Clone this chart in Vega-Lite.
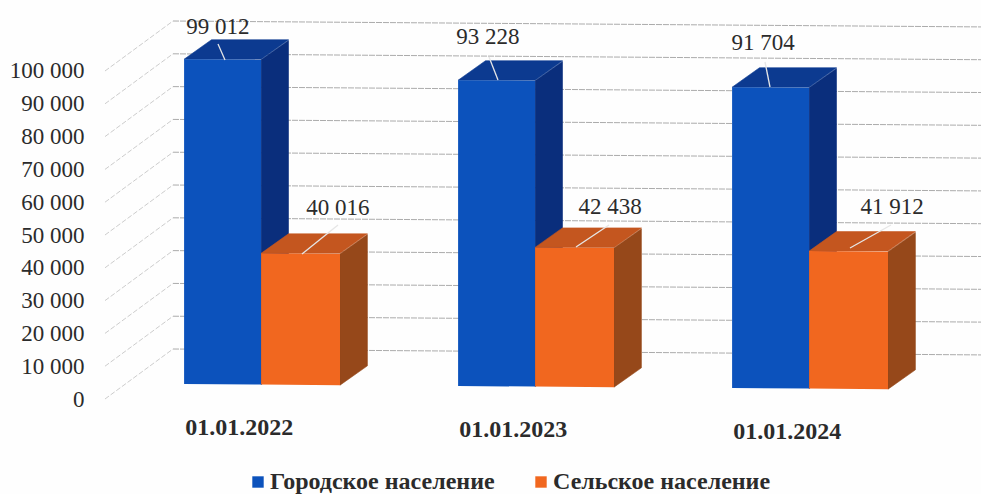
{
"$schema":"https://vega.github.io/schema/vega-lite/v6.json",
"width":891,"height":494,
"autosize":{"type":"none"},
"padding":{"left":90,"top":0,"right":0,"bottom":0},
"background":"#fefefe",
"config":{"view":{"stroke":null},"font":"Liberation Serif"},
"datasets":{
"bars":[
{"date":"01.01.2022","series":"Городское население","value":99012},
{"date":"01.01.2022","series":"Сельское население","value":40016},
{"date":"01.01.2023","series":"Городское население","value":93228},
{"date":"01.01.2023","series":"Сельское население","value":42438},
{"date":"01.01.2024","series":"Городское население","value":91704},
{"date":"01.01.2024","series":"Сельское население","value":41912}],
"ticks":[{"v":0},{"v":10000},{"v":20000},{"v":30000},{"v":40000},{"v":50000},{"v":60000},{"v":70000},{"v":80000},{"v":90000},{"v":100000}]
},
"resolve":{"axis":{"y":"independent","x":"independent"}},
"layer":[
{"data":{"name":"ticks"},
 "transform":[{"calculate":"[0,1]","as":"t"},{"flatten":["t"]},{"calculate":"-0.2847+datum.t*0.2482","as":"X"},{"calculate":"datum.v+datum.t*15240","as":"Y"}],
 "mark":{"type":"line","stroke":"#c6c6c6","strokeWidth":0.9,"strokeDash":[5,2]},
 "encoding":{"x":{"field":"X","type":"quantitative","scale":{"domain":[-0.3394,2.9124],"nice":false,"zero":false},"axis":null},
  "y":{"field":"Y","type":"quantitative","scale":{"domain":[-28963,121646],"nice":false,"zero":false},
   "axis":{"title":null,"grid":false,"domain":false,"ticks":false,"labelPadding":6,"values":[0,10000,20000,30000,40000,50000,60000,70000,80000,90000,100000],
    "labelFont":"Liberation Serif","labelFontSize":23,"labelColor":"#2b2b2b","labelExpr":"replace(format(datum.value,','),/,/g,' ')"}},
  "detail":{"field":"v"}}},
{"data":{"name":"ticks"},
 "transform":[{"calculate":"[0,1]","as":"t"},{"flatten":["t"]},{"calculate":"-0.0365+datum.t*2.949","as":"X"},{"calculate":"datum.v+15240-datum.t*1799","as":"Y"}],
 "mark":{"type":"line","stroke":"#a2a2a2","strokeWidth":0.9,"strokeDash":[6,1]},
 "encoding":{"x":{"field":"X","type":"quantitative","axis":null},"y":{"field":"Y","type":"quantitative","axis":null},"detail":{"field":"v"}}},
{"data":{"name":"bars"},
 "transform":[
  {"calculate":"toNumber(slice(datum.date,6))-2022","as":"g"},
  {"calculate":"datum.series[0]=='Г'?0:1","as":"s"},
  {"calculate":"datum.g+0.004+datum.s*0.281","as":"xl"},
  {"calculate":"datum.s==0?0.281:0.288","as":"w"},
  {"calculate":"[0,1]","as":"t"},{"flatten":["t"]}],
 "resolve":{"axis":{"y":"independent","x":"independent"}},
 "layer":[
  {"transform":[{"calculate":"datum.xl+datum.w+datum.t*0.1","as":"X"},
    {"calculate":"4573-610*datum.X+datum.t*5945","as":"Y2"},{"calculate":"datum.Y2+datum.value","as":"Y"}],
   "mark":{"type":"area","orient":"vertical","strokeWidth":0.6},
   "encoding":{"x":{"field":"X","type":"quantitative","axis":null},"y":{"field":"Y","type":"quantitative","stack":null,"axis":null},"y2":{"field":"Y2"},
    "detail":{"field":"value"},
    "fill":{"condition":{"test":"datum.s==0","value":"#0a2e7c"},"value":"#96481a"},
    "stroke":{"condition":{"test":"datum.s==0","value":"#0a2e7c"},"value":"#96481a"}}},
  {"transform":[{"calculate":"datum.xl+datum.t*0.1","as":"X"},{"calculate":"datum.X+datum.w","as":"X2"},
    {"calculate":"4573-610*datum.xl+datum.t*5945+datum.value","as":"Y"}],
   "mark":{"type":"area","orient":"horizontal","strokeWidth":0.6},
   "encoding":{"y":{"field":"Y","type":"quantitative","stack":null,"axis":null},"x":{"field":"X","type":"quantitative","stack":null,"axis":null},"x2":{"field":"X2"},
    "detail":{"field":"value"},
    "fill":{"condition":{"test":"datum.s==0","value":"#0c3a90"},"value":"#c4561f"},
    "stroke":{"condition":{"test":"datum.s==0","value":"#0c3a90"},"value":"#c4561f"}}},
  {"transform":[{"calculate":"datum.xl+datum.t*datum.w","as":"X"},
    {"calculate":"4573-610*datum.X","as":"Y2"},{"calculate":"datum.Y2+datum.value","as":"Y"}],
   "mark":{"type":"area","orient":"vertical"},
   "encoding":{"x":{"field":"X","type":"quantitative","axis":null},"y":{"field":"Y","type":"quantitative","stack":null,"axis":null},"y2":{"field":"Y2"},
    "detail":{"field":"value"},
    "color":{"field":"series","type":"nominal","scale":{"domain":["Городское население","Сельское население"],"range":["#0c52bc","#f1671f"]},
     "legend":{"title":null,"orient":"none","direction":"horizontal","legendX":156,"legendY":470,"symbolType":"square","symbolSize":130,"symbolStrokeWidth":0,"columnPadding":34,"labelFont":"Liberation Serif","labelFontWeight":"bold","labelFontSize":24,"labelColor":"#2b2b2b","labelLimit":300,"symbolOpacity":1,"labelOffset":0}}}},
  {"transform":[
    {"calculate":"{'99012':0.1533,'40016':0.4343,'93228':1.1496,'42438':1.4343,'91704':2.1423,'41912':2.4343}[datum.value]","as":"a"},
    {"calculate":"{'99012':0.1277,'40016':0.5657,'93228':1.1168,'42438':1.5547,'91704':2.1241,'41912':2.5839}[datum.value]","as":"b"},
    {"calculate":"{'99012':103354,'40016':44207,'93228':97256,'42438':46341,'91704':95122,'41912':46037}[datum.value]","as":"c"},
    {"calculate":"{'99012':108232,'40016':53049,'93228':104268,'42438':53049,'91704':102744,'41912':53049}[datum.value]","as":"d"},
    {"calculate":"datum.a+datum.t*(datum.b-datum.a)","as":"X"},{"calculate":"datum.c+datum.t*(datum.d-datum.c)","as":"Y"}],
   "mark":{"type":"line","stroke":"#e6e6e6","strokeWidth":1.3},
   "encoding":{"x":{"field":"X","type":"quantitative","axis":null},"y":{"field":"Y","type":"quantitative","axis":null},"detail":{"field":"value"}}},
  {"transform":[{"filter":"datum.t==0"},
    {"calculate":"{'99012':0.1277,'40016':0.5657,'93228':1.1131,'42438':1.5584,'91704':2.1168,'41912':2.5876}[datum.value]","as":"X"},
    {"calculate":"{'99012':113415,'40016':58232,'93228':110366,'42438':58537,'91704':108537,'41912':58537}[datum.value]","as":"Y"},
    {"calculate":"replace(format(datum.value,','),',',' ')","as":"label"}],
   "mark":{"type":"text","font":"Liberation Serif","fontSize":23,"color":"#2b2b2b","baseline":"middle","align":"center"},
   "encoding":{"x":{"field":"X","type":"quantitative","axis":null},"y":{"field":"Y","type":"quantitative","axis":null},"text":{"field":"label"}}},
  {"transform":[{"filter":"datum.t==0 && datum.s==0"},{"calculate":"datum.g+0.205","as":"X"},{"calculate":"-8841-610*datum.g","as":"Y"}],
   "mark":{"type":"text","font":"Liberation Serif","fontSize":24,"fontWeight":"bold","color":"#2b2b2b","baseline":"middle","align":"center"},
   "encoding":{"x":{"field":"X","type":"quantitative","axis":null},"y":{"field":"Y","type":"quantitative","axis":null},"text":{"field":"date"}}}
 ]}
]
}
